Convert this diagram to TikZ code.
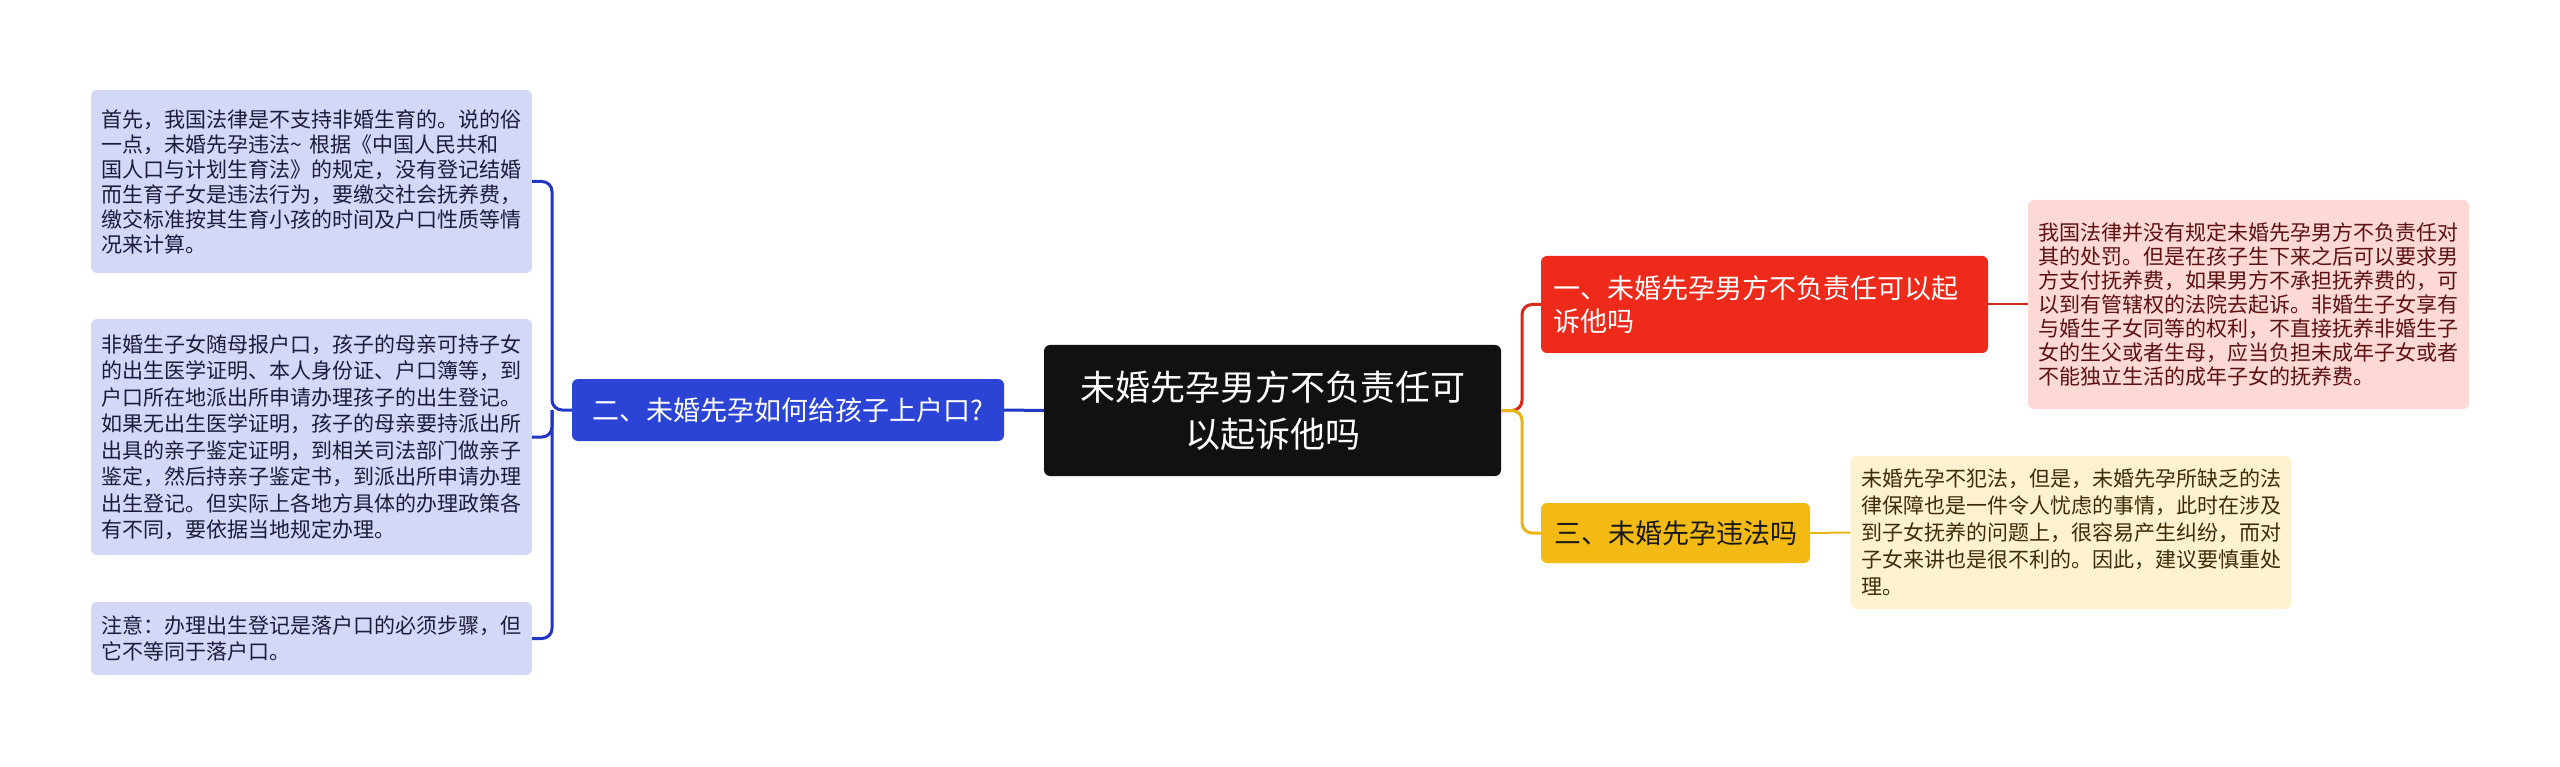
\documentclass[tikz,border=0pt]{standalone}
\usepackage{fontspec}
\setmainfont{Noto Sans CJK SC}
\definecolor{rootc}{HTML}{111111}
\definecolor{bluef}{HTML}{2B44D6}
\definecolor{bluel}{HTML}{2236C4}
\definecolor{redf}{HTML}{EE2A1B}
\definecolor{redl}{HTML}{D8281C}
\definecolor{yelf}{HTML}{F2BA12}
\definecolor{yell}{HTML}{E9B419}
\definecolor{leafb}{HTML}{D4D8F7}
\definecolor{leafbt}{HTML}{1C1C3A}
\definecolor{leafr}{HTML}{FDD9D6}
\definecolor{leafrt}{HTML}{5C1111}
\definecolor{leafy}{HTML}{FEF2D0}
\definecolor{leafyt}{HTML}{3D2C05}
\tikzset{
  box/.style={rounded corners=6pt, inner ysep=0pt},
  rootbox/.style={box, fill=rootc, text=white, align=center, minimum width=457pt, minimum height=131pt,
     font=\fontsize{35}{47}\selectfont},
  branchbox/.style={box, text=white, font=\fontsize{27}{33}\selectfont},
  leafbox/.style={box, inner xsep=10.5pt, text width=420pt, align=left},
  bline/.style={draw=bluel, line width=3pt, rounded corners=10pt},
  rline/.style={draw=redl, line width=3pt, rounded corners=10pt},
  yline/.style={draw=yell, line width=3pt, rounded corners=10pt},
}
\begin{document}
\begin{tikzpicture}[x=1pt,y=-1pt]
\useasboundingbox (0,0) rectangle (2560,767);
% root
\node[rootbox] (root) at (1272.5,410.5) {未婚先孕男方不负责任可\\以起诉他吗};
% branches
\node[branchbox, fill=bluef, align=center, minimum width=432pt, minimum height=62pt] (b2) at (788,410) {二、未婚先孕如何给孩子上户口?};
\node[branchbox, fill=redf, align=left, inner xsep=12pt, text width=423pt, minimum height=97pt] (b1) at (1764.5,304.5) {一、未婚先孕男方不负责任可以起\\诉他吗};
\node[branchbox, fill=yelf, text=black!90, align=center, minimum width=269pt, minimum height=60pt] (b3) at (1675.5,533) {三、未婚先孕违法吗};
% left leaves
\node[leafbox, fill=leafb, text=leafbt, minimum height=183pt, font=\fontsize{21}{25}\selectfont] (l1) at (311.5,181.5)
 {首先，我国法律是不支持非婚生育的。说的俗\\一点，未婚先孕违法\textasciitilde\ 根据《中国人民共和\\国人口与计划生育法》的规定，没有登记结婚\\而生育子女是违法行为，要缴交社会抚养费，\\缴交标准按其生育小孩的时间及户口性质等情\\况来计算。};
\node[leafbox, fill=leafb, text=leafbt, minimum height=236pt, font=\fontsize{21}{26.5}\selectfont] (l2) at (311.5,437)
 {非婚生子女随母报户口，孩子的母亲可持子女\\的出生医学证明、本人身份证、户口簿等，到\\户口所在地派出所申请办理孩子的出生登记。\\如果无出生医学证明，孩子的母亲要持派出所\\出具的亲子鉴定证明，到相关司法部门做亲子\\鉴定，然后持亲子鉴定书，到派出所申请办理\\出生登记。但实际上各地方具体的办理政策各\\有不同，要依据当地规定办理。};
\node[leafbox, fill=leafb, text=leafbt, minimum height=73pt, font=\fontsize{21}{26}\selectfont] (l3) at (311.5,638.5)
 {注意：办理出生登记是落户口的必须步骤，但\\它不等同于落户口。};
% right leaves
\node[leafbox, fill=leafr, text=leafrt, minimum height=209pt, font=\fontsize{21}{24}\selectfont] (r1) at (2248.5,304.5)
 {我国法律并没有规定未婚先孕男方不负责任对\\其的处罚。但是在孩子生下来之后可以要求男\\方支付抚养费，如果男方不承担抚养费的，可\\以到有管辖权的法院去起诉。非婚生子女享有\\与婚生子女同等的权利，不直接抚养非婚生子\\女的生父或者生母，应当负担未成年子女或者\\不能独立生活的成年子女的抚养费。};
\node[leafbox, fill=leafy, text=leafyt, minimum height=153pt, font=\fontsize{21}{27}\selectfont] (y1) at (2071,532.5)
 {未婚先孕不犯法，但是，未婚先孕所缺乏的法\\律保障也是一件令人忧虑的事情，此时在涉及\\到子女抚养的问题上，很容易产生纠纷，而对\\子女来讲也是很不利的。因此，建议要慎重处\\理。};
% junctions
\coordinate (lj) at (552,410);
\coordinate (rj) at (1522,410.5);
% connectors
\draw[bline] (root.west) -- (b2.east);
\draw[bline] (b2.west) -- (lj) |- (l1.east);
\draw[bline] (lj) |- (l2.east);
\draw[bline] (lj) |- (l3.east);
\draw[rline] (root.east) -- (rj) |- (b1.west);
\draw[yline] (root.east) -- (rj) |- (b3.west);
\draw[draw=redl, line width=2pt] (b1.east) -- (r1.west);
\draw[draw=yell, line width=2pt] (b3.east) -- (y1.west);
\end{tikzpicture}
\end{document}
